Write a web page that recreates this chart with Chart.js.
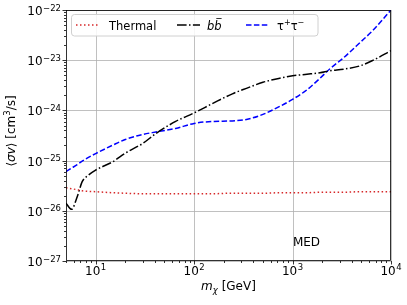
<!DOCTYPE html>
<html>
<head>
<meta charset="utf-8">
<script src="https://cdn.jsdelivr.net/npm/chart.js@4.4.1/dist/chart.umd.min.js"></script>
<style>
  html, body { margin: 0; padding: 0; background: #fff; }
  canvas { display: block; }
</style>
</head>
<body>
<canvas id="limitsChart" width="407" height="305"></canvas>
<script>
// Datos (masa en GeV, <sigma v> en cm^3/s)
const masses = [5, 5.7, 6.5, 7.3, 8.2, 10, 15, 20, 30, 41, 65, 100, 155, 245, 340, 500, 740, 1000, 1400, 1900, 2400, 3300, 4900, 6600, 10000];

const thermalValues = [2.88e-26, 2.75e-26, 2.63e-26, 2.51e-26, 2.45e-26, 2.40e-26, 2.29e-26, 2.24e-26, 2.19e-26, 2.19e-26, 2.19e-26, 2.19e-26, 2.19e-26, 2.24e-26, 2.24e-26, 2.24e-26, 2.29e-26, 2.29e-26, 2.29e-26, 2.34e-26, 2.34e-26, 2.34e-26, 2.40e-26, 2.40e-26, 2.40e-26];

const bbValues = [1.41e-26, 1.07e-26, 1.91e-26, 3.80e-26, 4.90e-26, 6.46e-26, 9.55e-26, 1.41e-25, 2.19e-25, 3.47e-25, 6.03e-25, 8.91e-25, 1.38e-24, 2.14e-24, 2.75e-24, 3.63e-24, 4.37e-24, 4.90e-24, 5.25e-24, 5.62e-24, 6.17e-24, 6.61e-24, 7.76e-24, 1.00e-23, 1.55e-23];

const tauValues = [6.03e-26, 7.08e-26, 8.32e-26, 9.77e-26, 1.12e-25, 1.38e-25, 2.04e-25, 2.63e-25, 3.31e-25, 3.72e-25, 4.37e-25, 5.50e-25, 6.03e-25, 6.17e-25, 6.61e-25, 8.32e-25, 1.20e-24, 1.66e-24, 2.57e-24, 4.37e-24, 6.76e-24, 1.12e-23, 2.29e-23, 3.98e-23, 1.00e-22];

// Ticks de los ejes
const xMajorTicks = [10, 100, 1000, 10000];
const xTickExponents = ['1', '2', '3', '4'];
const yMajorTicks = [1e-27, 1e-26, 1e-25, 1e-24, 1e-23, 1e-22];
const yTickExponents = ['\u221227', '\u221226', '\u221225', '\u221224', '\u221223', '\u221222'];

const FONT = '"DejaVu Sans", sans-serif';

function toPoints(values) {
  return masses.map((m, i) => ({ x: m, y: values[i] }));
}

function minorTicks(lo, hi) {
  const out = [];
  for (let d = Math.floor(Math.log10(lo)); d <= Math.ceil(Math.log10(hi)); d++) {
    for (let k = 2; k <= 9; k++) {
      const v = k * Math.pow(10, d);
      if (v >= lo && v <= hi) out.push(v);
    }
  }
  return out;
}

// Etiqueta tipo 10^n
function drawPow(ctx, exp, x, baseY, align) {
  ctx.font = '12px ' + FONT;
  const wBase = ctx.measureText('10').width;
  ctx.font = '8.5px ' + FONT;
  const wExp = ctx.measureText(exp).width;
  const total = wBase + wExp + 0.5;
  let start = x;
  if (align === 'right') start = x - total;
  if (align === 'center') start = x - total / 2;
  ctx.textAlign = 'left';
  ctx.textBaseline = 'alphabetic';
  ctx.font = '12px ' + FONT;
  ctx.fillText('10', start, baseY);
  ctx.font = '8.5px ' + FONT;
  ctx.fillText(exp, start + wBase + 0.5, baseY - 4.5);
}

// Dibuja una secuencia de trozos de texto con estilos distintos
function drawRuns(ctx, runs, x, y) {
  let cx = x;
  runs.forEach(r => {
    ctx.font = r.font;
    ctx.fillText(r.text, cx, y + (r.dy || 0));
    cx += ctx.measureText(r.text).width;
  });
}

function runsWidth(ctx, runs) {
  let w = 0;
  runs.forEach(r => { ctx.font = r.font; w += ctx.measureText(r.text).width; });
  return w;
}

const decorations = {
  id: 'decorations',
  beforeDatasetsDraw(chart) {
    const { ctx, chartArea: a, scales: { x, y } } = chart;
    ctx.save();
    ctx.strokeStyle = '#b0b0b0';
    ctx.lineWidth = 0.8;
    xMajorTicks.forEach(v => {
      const px = Math.round(x.getPixelForValue(v)) + 0.5;
      ctx.beginPath(); ctx.moveTo(px, a.top); ctx.lineTo(px, a.bottom); ctx.stroke();
    });
    yMajorTicks.forEach(v => {
      const py = Math.round(y.getPixelForValue(v)) + 0.5;
      ctx.beginPath(); ctx.moveTo(a.left, py); ctx.lineTo(a.right, py); ctx.stroke();
    });
    ctx.restore();
  },
  afterDraw(chart) {
    const { ctx, chartArea: a, scales: { x, y } } = chart;
    ctx.save();

    // marco
    ctx.strokeStyle = '#000';
    ctx.lineWidth = 0.8;
    ctx.strokeRect(a.left + 0.5, a.top + 0.5, a.right - a.left - 1, a.bottom - a.top - 1);

    // ticks
    ctx.lineWidth = 0.8;
    ctx.beginPath();
    xMajorTicks.forEach(v => {
      const px = Math.round(x.getPixelForValue(v)) + 0.5;
      ctx.moveTo(px, a.bottom); ctx.lineTo(px, a.bottom + 3.5);
    });
    minorTicks(x.min, x.max).forEach(v => {
      const px = Math.round(x.getPixelForValue(v)) + 0.5;
      ctx.moveTo(px, a.bottom); ctx.lineTo(px, a.bottom + 2);
    });
    yMajorTicks.forEach(v => {
      const py = Math.round(y.getPixelForValue(v)) + 0.5;
      ctx.moveTo(a.left, py); ctx.lineTo(a.left - 3.5, py);
    });
    minorTicks(y.min, y.max).forEach(v => {
      const py = Math.round(y.getPixelForValue(v)) + 0.5;
      ctx.moveTo(a.left, py); ctx.lineTo(a.left - 2, py);
    });
    ctx.stroke();

    // etiquetas de ticks
    ctx.fillStyle = '#000';
    xMajorTicks.forEach((v, i) => {
      drawPow(ctx, xTickExponents[i], x.getPixelForValue(v), a.bottom + 13.5, 'center');
    });
    yMajorTicks.forEach((v, i) => {
      drawPow(ctx, yTickExponents[i], a.left - 5, y.getPixelForValue(v) + 5, 'right');
    });

    // título eje x: m_chi [GeV]
    const xRuns = [
      { text: 'm', font: 'italic 12px ' + FONT },
      { text: '\u03c7', font: 'italic 8.5px ' + FONT, dy: 2.5 },
      { text: ' [GeV]', font: '12px ' + FONT }
    ];
    ctx.textAlign = 'left';
    ctx.textBaseline = 'alphabetic';
    const xw = runsWidth(ctx, xRuns);
    drawRuns(ctx, xRuns, (a.left + a.right) / 2 - xw / 2, 290);

    // título eje y: <sigma v> [cm^3/s]
    const yRuns = [
      { text: '\u27e8', font: '12px ' + FONT },
      { text: '\u03c3v', font: 'italic 12px ' + FONT },
      { text: '\u27e9 [cm', font: '12px ' + FONT },
      { text: '3', font: '8.5px ' + FONT, dy: -4.5 },
      { text: '/s]', font: '12px ' + FONT }
    ];
    const yw = runsWidth(ctx, yRuns);
    ctx.save();
    ctx.translate(14.5, 131);
    ctx.rotate(-Math.PI / 2);
    drawRuns(ctx, yRuns, -yw / 2, 0);
    ctx.restore();

    // texto MED
    ctx.font = '12px ' + FONT;
    ctx.textAlign = 'center';
    ctx.textBaseline = 'middle';
    ctx.fillText('MED', 306.5, 243);

    // leyenda
    ctx.beginPath();
    ctx.roundRect(71.5, 14.5, 246.5, 21.5, 3);
    ctx.fillStyle = 'rgba(255,255,255,0.85)';
    ctx.fill();
    ctx.strokeStyle = '#d0d0d0';
    ctx.lineWidth = 1;
    ctx.stroke();

    const ly = 25;
    chart.data.datasets.forEach((ds, i) => {
      const sx = [76, 177, 246][i];
      ctx.strokeStyle = ds.borderColor;
      ctx.lineWidth = ds.borderWidth;
      ctx.setLineDash(ds.borderDash);
      ctx.beginPath(); ctx.moveTo(sx, ly); ctx.lineTo(sx + 23, ly); ctx.stroke();
    });
    ctx.setLineDash([]);
    ctx.fillStyle = '#000';
    ctx.textAlign = 'left';
    ctx.textBaseline = 'alphabetic';
    ctx.font = '11.5px ' + FONT;
    ctx.fillText('Thermal', 109, 29.5);
    ctx.font = 'italic 11.5px ' + FONT;
    ctx.fillText('bb', 207, 29.5);
    const bw = ctx.measureText('b').width;
    ctx.strokeStyle = '#000';
    ctx.lineWidth = 0.8;
    ctx.beginPath(); ctx.moveTo(207 + bw + 2, 18.5); ctx.lineTo(207 + 2 * bw, 18.5); ctx.stroke();
    drawRuns(ctx, [
      { text: '\u03c4', font: '11.5px ' + FONT },
      { text: '+', font: '8px ' + FONT, dy: -4.5 },
      { text: '\u03c4', font: '11.5px ' + FONT },
      { text: '\u2212', font: '8px ' + FONT, dy: -4.5 }
    ], 277, 29.5);

    ctx.restore();
  }
};

const ctx = document.getElementById('limitsChart').getContext('2d');
const limitsChart = new Chart(ctx, {
  type: 'line',
  data: {
    datasets: [
      {
        label: 'Thermal',
        data: toPoints(thermalValues),
        borderColor: '#d62728',
        borderWidth: 1.5,
        borderDash: [1.5, 2.5],
        cubicInterpolationMode: 'monotone'
      },
      {
        label: 'bb',
        data: toPoints(bbValues),
        borderColor: '#000000',
        borderWidth: 1.5,
        borderDash: [9.6, 2.4, 1.5, 2.4],
        cubicInterpolationMode: 'monotone'
      },
      {
        label: 'tautau',
        data: toPoints(tauValues),
        borderColor: '#0000ff',
        borderWidth: 1.5,
        borderDash: [5.5, 2.4],
        cubicInterpolationMode: 'monotone'
      }
    ]
  },
  options: {
    responsive: false,
    animation: false,
    devicePixelRatio: 1,
    layout: { padding: { top: 10, right: 16, left: 0, bottom: 0 } },
    elements: { point: { radius: 0 }, line: { fill: false } },
    plugins: { legend: { display: false }, tooltip: { enabled: false } },
    scales: {
      x: {
        type: 'logarithmic',
        min: 5,
        max: 10000,
        grid: { display: false },
        border: { display: false },
        ticks: { display: false },
        afterFit(scale) { scale.height = 44; }
      },
      y: {
        type: 'logarithmic',
        min: 1e-27,
        max: 1e-22,
        grid: { display: false },
        border: { display: false },
        ticks: { display: false },
        afterFit(scale) { scale.width = 66; }
      }
    }
  },
  plugins: [decorations]
});
</script>
</body>
</html>
